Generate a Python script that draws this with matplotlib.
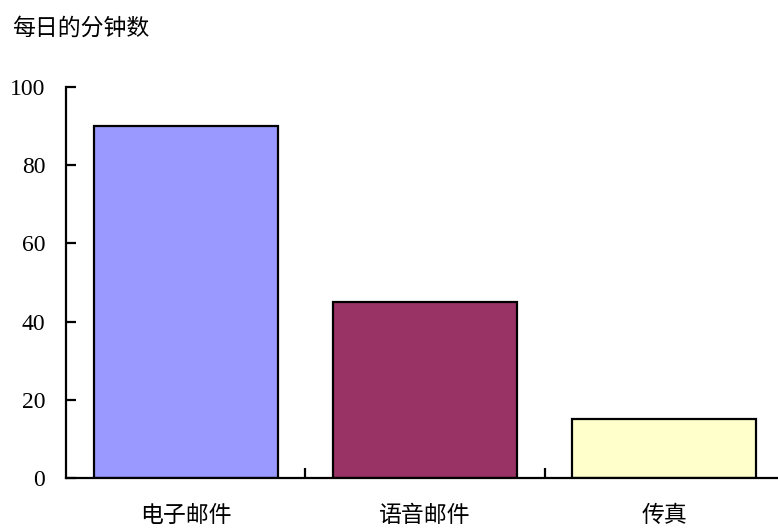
import numpy as np
import matplotlib.pyplot as plt
from matplotlib.ticker import FixedLocator

categories = ["电子邮件", "语音邮件", "传真"]
minutes = [90, 45, 15]
colors = ["#9999FF", "#993366", "#FFFFCC"]
yticks = [0, 20, 40, 60, 80, 100]

cjk = ["Noto Sans CJK SC", "DejaVu Sans"]

fig = plt.figure(figsize=(7.78, 5.29), dpi=100)
# axes run past the right edge of the figure like the original
ax = fig.add_axes([66/778, 1 - 478/529, 718/778, 391/529])

x = np.arange(len(categories))
ax.bar(x, minutes, width=0.77, color=colors, edgecolor="black", linewidth=1.6)

ax.set_xlim(-0.5, 2.5)
ax.set_ylim(0, 100)
for s in ["top", "right"]:
    ax.spines[s].set_visible(False)
ax.spines["left"].set_linewidth(1.6)
ax.spines["bottom"].set_linewidth(1.6)

ax.set_yticks(yticks)
ax.set_yticklabels([str(v) for v in yticks], family="Liberation Serif", fontsize=17)
ax.tick_params(axis="y", direction="in", length=7, width=1.6, pad=15)
for lab in ax.get_yticklabels():
    lab.set_y(lab.get_position()[1])

ax.set_xticks(x)
ax.set_xticklabels(categories, family=cjk, fontsize=16.5)
ax.tick_params(axis="x", which="major", length=0, pad=19)
ax.xaxis.set_minor_locator(FixedLocator([0.5, 1.5]))
ax.tick_params(axis="x", which="minor", direction="in", length=7, width=1.6)

fig.text(12/778, 1 - 28/529, "每日的分钟数", family=cjk, fontsize=16.5, va="center", ha="left")

fig.savefig("out.png", dpi=100)
